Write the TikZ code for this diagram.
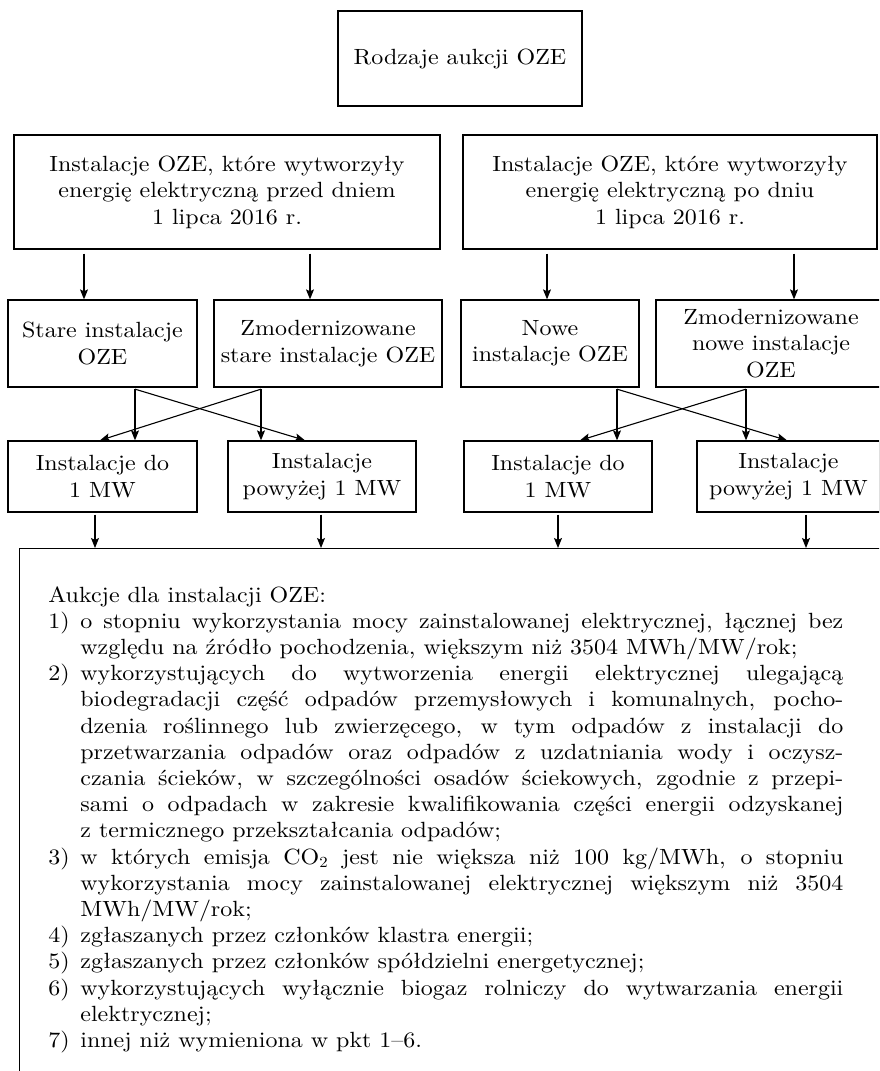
\documentclass[tikz,border=0pt]{standalone}
\usepackage{fontspec}
\setmainfont{lmroman10-regular.otf}[FakeStretch=1.09]
\usetikzlibrary{arrows.meta,calc}
\newdimen\px \px=0.5pt
\newcommand\pitem[2]{\hbox{\hbox to 32\px{#1\hss}#2}}
\newcommand\pjust[1]{\hbox to 763\px{#1}}
\newcommand\pcont[1]{\hbox{\hskip32\px #1}}
\tikzset{
  box/.style={draw, line width=0.65pt, align=center, inner sep=0pt,
    font=\fontsize{11}{13.2}\selectfont},
  arr/.style={line width=0.55pt, -{Stealth[length=5pt,width=4pt,inset=1pt]}},
}
\begin{document}
\begin{tikzpicture}[x=0.5pt,y=-0.5pt]
\useasboundingbox (0,0) rectangle (879,1071);
\clip (0,0) rectangle (879,1071);

\node[box, minimum width=244\px, minimum height=95\px] (top) at (460,58.5) {Rodzaje aukcji OZE};

\node[box, minimum width=426\px, minimum height=114\px] (bigL) at (227,192)
  {Instalacje OZE, które wytworzyły\\energię elektryczną przed dniem\\1 lipca 2016 r.};
\node[box, minimum width=414\px, minimum height=114\px] (bigR) at (670,192)
  {Instalacje OZE, które wytworzyły\\energię elektryczną po dniu\\1 lipca 2016 r.};

\node[box, minimum width=189\px, minimum height=87\px] (stare) at (102.5,343.5) {Stare instalacje\\OZE};
\node[box, minimum width=228\px, minimum height=87\px] (zmodS) at (328,343.5) {Zmodernizowane\\stare instalacje OZE};
\node[box, minimum width=178\px, minimum height=87\px] (nowe) at (550,343.5) {Nowe\\instalacje OZE};
\node[box, minimum width=230\px, minimum height=87\px] (zmodN) at (771,343.5) {Zmodernizowane\\nowe instalacje\\OZE};

\node[box, minimum width=189\px, minimum height=71\px] (L1) at (102.5,476.5) {Instalacje do\\1 MW};
\node[box, minimum width=188\px, minimum height=71\px] (L2) at (322,476.5) {Instalacje\\powyżej 1 MW};
\node[box, minimum width=188\px, minimum height=71\px] (R1) at (558,476.5) {Instalacje do\\1 MW};
\node[box, minimum width=183\px, minimum height=71\px] (R2) at (788.5,476.5) {Instalacje\\powyżej 1 MW};

\node[draw, line width=0.65pt, inner sep=0pt, minimum width=900\px, minimum height=560\px, anchor=north west] (main) at (19,548) {};

\node[anchor=base west, inner sep=0pt, font=\fontsize{11}{13.1}\selectfont] (txt) at (48,602) {\vtop{%
\hbox{Aukcje dla instalacji OZE:}
\pitem{1)}{\pjust{o stopniu wykorzystania mocy zainstalowanej elektrycznej, łącznej bez}}
\pcont{względu na źródło pochodzenia, większym niż 3504 MWh/MW/rok;}
\pitem{2)}{\pjust{wykorzystujących do wytworzenia energii elektrycznej ulegającą}}
\pcont{\pjust{biodegradacji część odpadów przemysłowych i komunalnych, pocho-}}
\pcont{\pjust{dzenia roślinnego lub zwierzęcego, w tym odpadów z instalacji do}}
\pcont{\pjust{przetwarzania odpadów oraz odpadów z uzdatniania wody i oczysz-}}
\pcont{\pjust{czania ścieków, w szczególności osadów ściekowych, zgodnie z przepi-}}
\pcont{\pjust{sami o odpadach w zakresie kwalifikowania części energii odzyskanej}}
\pcont{z termicznego przekształcania odpadów;}
\pitem{3)}{\pjust{w których emisja CO\textsubscript{2} jest nie większa niż 100 kg/MWh, o stopniu}}
\pcont{\pjust{wykorzystania mocy zainstalowanej elektrycznej większym niż 3504}}
\pcont{MWh/MW/rok;}
\pitem{4)}{zgłaszanych przez członków klastra energii;}
\pitem{5)}{zgłaszanych przez członków spółdzielni energetycznej;}
\pitem{6)}{\pjust{wykorzystujących wyłącznie biogaz rolniczy do wytwarzania energii}}
\pcont{elektrycznej;}
\pitem{7)}{innej niż wymieniona w pkt 1–6.}
}};

% row 1 -> row 2
\draw[arr] ($(stare.north|-bigL.south)+(-18.5,4)$) -- ($(stare.north)+(-18.5,0)$);
\draw[arr] ($(zmodS.north|-bigL.south)+(-18,4)$) -- ($(zmodS.north)+(-18,0)$);
\draw[arr] ($(nowe.north|-bigR.south)+(-3,4)$) -- ($(nowe.north)+(-3,0)$);
\draw[arr] ($(zmodN.north|-bigR.south)+(23,4)$) -- ($(zmodN.north)+(23,0)$);

% row 2 -> row 3, left
\draw[arr] ($(stare.south)+(32.5,1.5)$) -- ($(L1.north)+(32.5,0)$);
\draw[arr] ($(stare.south)+(32.5,1.5)$) -- ($(L2.north)+(-17,0)$);
\draw[arr] ($(zmodS.south)+(-67,1.5)$) -- ($(L2.north)+(-61,0)$);
\draw[arr] ($(zmodS.south)+(-67,1.5)$) -- ($(L1.north)+(-2.5,0)$);
% row 2 -> row 3, right
\draw[arr] ($(nowe.south)+(67,1.5)$) -- ($(R1.north)+(59,0)$);
\draw[arr] ($(nowe.south)+(67,1.5)$) -- ($(R2.north)+(-1.5,0)$);
\draw[arr] ($(zmodN.south)+(-25,1.5)$) -- ($(R2.north)+(-42.5,0)$);
\draw[arr] ($(zmodN.south)+(-25,1.5)$) -- ($(R1.north)+(22,0)$);

% row 3 -> bottom
\draw[arr] ($(L1.south)+(-7.5,2)$) -- ($(L1.south|-main.north)+(-7.5,0)$);
\draw[arr] ($(L2.south)+(-1,2)$) -- ($(L2.south|-main.north)+(-1,0)$);
\draw[arr] ($(R1.south)+(0,2)$) -- ($(R1.south|-main.north)+(0,0)$);
\draw[arr] ($(R2.south)+(17.5,2)$) -- ($(R2.south|-main.north)+(17.5,0)$);
\end{tikzpicture}
\end{document}
